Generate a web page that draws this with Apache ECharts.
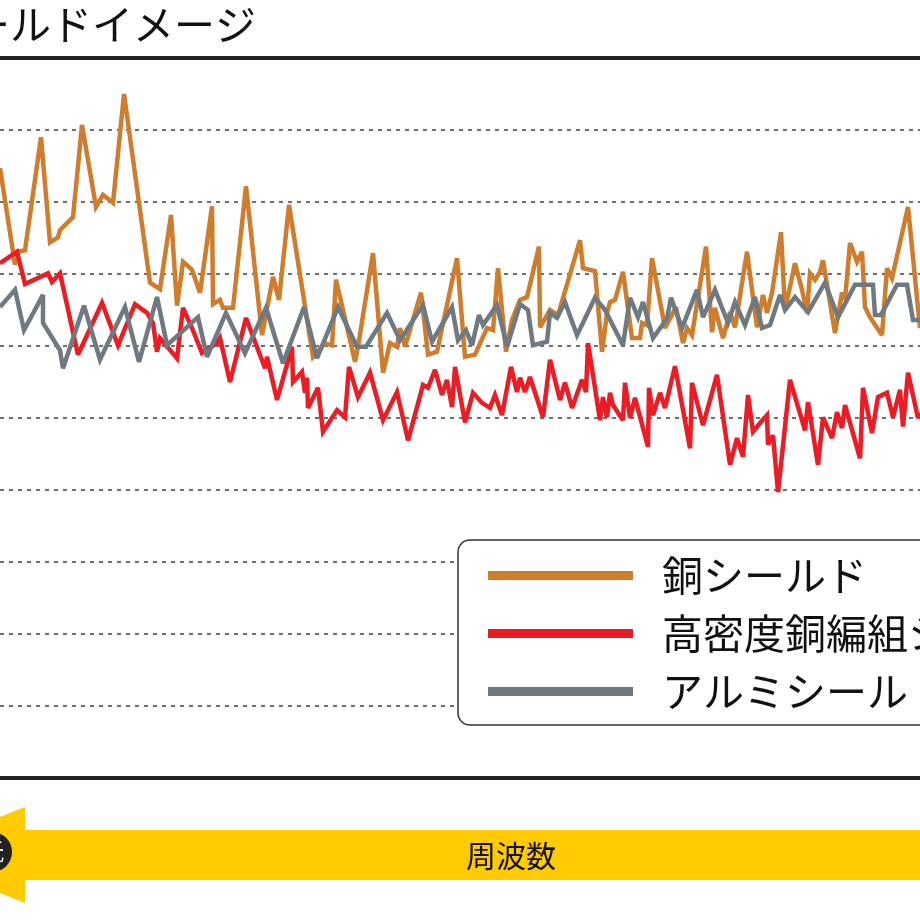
<!DOCTYPE html>
<html>
<head>
<meta charset="utf-8">
<script src="https://cdn.jsdelivr.net/npm/echarts@6/dist/echarts.min.js"></script>
<style>
  html, body { margin: 0; padding: 0; background: #fff; overflow: hidden; }
  #chart { width: 920px; height: 920px; }
</style>
</head>
<body>
<div id="chart"></div>
<script>
// series names (legend order)
var seriesNames = ['銅シールド', '高密度銅編組シールド', 'アルミシールド'];

// 銅シールド
var copperX = [0, 1.5, 1.8, 2.5, 4.1, 5.0, 5.8, 6.0, 7.3, 8.2,
    9.6, 10.3, 11.3, 12.4, 15.0, 16.0, 17.1, 17.7, 18.3, 19.2,
    20.0, 21.2, 21.3, 22.0, 22.3, 23.3, 24.6, 26.2, 27.3, 27.9,
    28.9, 31.3, 32.5, 33.2, 33.6, 35.5, 35.8, 37.3, 38.3, 39.0,
    39.7, 40.0, 40.5, 42.1, 42.8, 43.7, 45.7, 46.5, 47.5, 48.7,
    49.3, 49.8, 50.6, 51.2, 52.0, 52.7, 53.9, 54.0, 55.0, 55.8,
    58.0, 58.3, 59.5, 60.2, 60.7, 61.0, 61.5, 62.3, 63.2, 64.0,
    64.2, 64.7, 65.2, 66.5, 67.6, 68.3, 68.7, 69.2, 70.6, 71.2,
    71.5, 72.3, 73.0, 73.5, 74.7, 75.7, 76.3, 76.7, 77.2, 78.1,
    78.5, 79.5, 80.2, 80.7, 81.0, 81.5, 82.0, 82.3, 83.5, 84.2,
    84.5, 85.0, 85.7, 86.2, 86.5, 87.0, 88.2, 88.7, 89.2, 90.8,
    92.0];
var copperY = [84.7, 71.3, 73.1, 73.3, 89.0, 74.4, 75.1, 76.1, 77.9, 90.7,
    79.3, 81.0, 79.9, 95.0, 68.8, 67.9, 78.2, 65.6, 71.7, 70.6,
    67.4, 79.4, 65.8, 66.4, 65.3, 65.3, 82.2, 61.5, 69.6, 66.4,
    79.6, 58.5, 60.4, 60.1, 69.2, 57.8, 59.9, 72.9, 56.3, 60.4,
    59.9, 62.5, 59.9, 67.4, 58.8, 59.2, 72.2, 58.5, 58.8, 62.5,
    62.2, 70.8, 59.2, 63.6, 66.4, 66.8, 73.8, 62.6, 65.0, 64.3,
    74.7, 70.8, 70.4, 59.2, 64.6, 66.1, 66.4, 70.3, 61.1, 61.1,
    63.2, 62.9, 72.2, 62.5, 65.4, 60.4, 62.5, 61.5, 73.8, 61.9,
    65.3, 61.1, 64.7, 62.6, 73.1, 62.6, 67.1, 64.6, 67.4, 75.8,
    65.0, 71.5, 67.8, 64.6, 70.1, 69.2, 70.3, 71.9, 61.8, 67.4,
    66.4, 74.3, 71.7, 73.1, 65.4, 64.0, 61.5, 70.8, 69.4, 79.3,
    62.5];

// 高密度銅編組シールド
var braidX = [0, 1.7, 2.5, 4.8, 5.2, 6.0, 7.8, 10.2, 11.8, 13.5,
    14.7, 15.3, 15.7, 16.0, 17.7, 18.3, 19.2, 20.2, 21.7, 22.0,
    23.0, 24.6, 26.5, 26.7, 27.0, 27.7, 29.2, 29.3, 30.2, 30.5,
    30.7, 30.8, 31.8, 32.3, 33.7, 34.5, 34.9, 35.8, 37.0, 38.3,
    39.7, 40.8, 42.3, 42.8, 43.5, 44.2, 44.7, 45.2, 45.5, 46.5,
    47.3, 48.2, 49.0, 49.5, 50.2, 51.1, 51.7, 52.0, 52.5, 53.0,
    54.3, 55.0, 56.0, 56.5, 57.2, 58.2, 58.6, 58.8, 60.0, 60.3,
    60.7, 61.0, 61.3, 62.3, 62.5, 63.0, 63.5, 64.8, 64.9, 65.3,
    66.0, 66.5, 67.5, 69.0, 69.2, 70.3, 71.7, 73.0, 73.7, 74.3,
    74.8, 75.3, 76.0, 76.7, 76.8, 77.3, 77.8, 79.0, 80.5, 80.8,
    81.8, 82.3, 83.2, 83.7, 84.2, 84.5, 86.0, 86.3, 87.2, 87.8,
    88.7, 89.3, 90.0, 90.3, 90.8, 91.8, 92.0];
var braidY = [71.5, 73.1, 68.6, 70.1, 68.9, 70.1, 58.8, 66.0, 60.1, 65.8,
    64.6, 63.2, 59.2, 61.1, 58.3, 65.3, 62.5, 59.0, 60.4, 61.1,
    55.0, 63.9, 56.9, 58.5, 56.7, 52.5, 59.9, 55.0, 56.4, 53.5,
    55.6, 51.4, 54.2, 48.1, 51.1, 50.1, 57.1, 52.9, 56.3, 49.7,
    53.6, 46.9, 54.6, 54.2, 56.7, 53.2, 55.3, 51.5, 57.1, 49.4,
    53.5, 52.1, 51.4, 53.2, 50.4, 57.1, 53.6, 55.6, 53.6, 55.7,
    50.1, 58.1, 52.5, 54.9, 51.4, 55.3, 53.6, 60.4, 49.7, 52.9,
    50.1, 53.5, 51.8, 49.7, 54.9, 50.0, 52.8, 46.0, 54.2, 50.4,
    53.5, 51.4, 57.2, 45.8, 54.9, 49.0, 56.0, 43.5, 47.2, 44.6,
    53.2, 48.1, 49.3, 50.4, 46.3, 47.6, 39.7, 55.3, 48.3, 52.2,
    43.5, 50.1, 47.2, 50.8, 48.6, 51.8, 44.4, 54.2, 47.9, 52.9,
    53.5, 50.1, 53.9, 48.8, 56.3, 50.0, 50.7];

// アルミシールド
var aluX = [0, 1.5, 2.4, 4.3, 4.3, 6.0, 6.3, 8.4, 10.0, 12.5,
    13.9, 15.7, 16.7, 19.8, 20.7, 22.6, 24.5, 26.6, 28.3, 30.4,
    31.7, 33.8, 35.7, 36.6, 38.7, 40.0, 42.3, 43.2, 45.2, 45.8,
    46.6, 47.2, 47.9, 48.3, 49.7, 50.7, 52.0, 52.8, 53.3, 54.7,
    55.0, 55.7, 56.5, 57.7, 59.5, 60.5, 62.3, 63.0, 63.8, 64.3,
    65.3, 66.7, 67.1, 68.2, 69.7, 70.3, 71.5, 72.8, 73.5, 74.5,
    75.5, 76.2, 77.0, 78.0, 78.5, 79.5, 80.8, 82.5, 83.8, 85.5,
    87.3, 87.5, 88.1, 89.7, 90.7, 91.3, 92.0];
var aluY = [65.4, 67.8, 62.2, 67.1, 63.2, 59.4, 56.9, 65.6, 58.1, 65.4,
    57.8, 66.8, 60.1, 64.0, 58.5, 64.6, 59.0, 65.3, 57.6, 65.4,
    58.3, 65.4, 59.9, 59.9, 64.6, 60.8, 65.7, 60.6, 65.4, 60.8,
    62.2, 60.1, 64.3, 62.9, 65.7, 59.9, 65.8, 65.0, 60.1, 60.6,
    64.6, 63.9, 66.1, 61.5, 66.7, 65.0, 60.1, 66.7, 64.0, 66.1,
    61.1, 63.8, 66.7, 62.5, 67.8, 64.0, 67.8, 63.2, 66.1, 62.9,
    66.8, 62.5, 62.9, 67.1, 65.0, 66.8, 64.7, 68.8, 64.0, 68.5,
    68.5, 64.3, 64.3, 68.5, 68.5, 63.6, 63.6];

var colors = ['#CF7D2C', '#EC1C24', '#6E7981'];
var jpFont = '"Noto Sans CJK JP", "Noto Sans", sans-serif';

function zip(xs, ys) {
    return xs.map(function (x, i) { return [x, ys[i]]; });
}

var seriesData = [zip(copperX, copperY), zip(braidX, braidY), zip(aluX, aluY)];

var chart = echarts.init(document.getElementById('chart'));

var frameLine = {
    show: true,
    onZero: false,
    lineStyle: { color: '#222', width: 4 }
};

chart.setOption({
    animation: false,
    backgroundColor: '#fff',
    title: {
        text: 'シールドイメージ',
        left: -72,
        top: 4,
        padding: 0,
        textStyle: { fontFamily: jpFont, fontSize: 41, fontWeight: 'normal', color: '#111' }
    },
    legend: {
        data: seriesNames,
        orient: 'vertical',
        left: 458,
        top: 540,
        padding: [15, 20, 13, 30],
        itemGap: 17,
        itemWidth: 145,
        itemHeight: 9,
        icon: 'rect',
        backgroundColor: '#fff',
        borderColor: '#333',
        borderWidth: 1.5,
        borderRadius: 12,
        textStyle: {
            fontFamily: jpFont,
            fontSize: 41,
            lineHeight: 40,
            color: '#111',
            padding: [0, 0, 0, 24]
        }
    },
    grid: { left: 0, right: 0, top: 58, bottom: 142 },
    xAxis: [{
        type: 'value',
        min: 0,
        max: 92,
        position: 'bottom',
        axisLine: frameLine,
        axisTick: { show: false },
        axisLabel: { show: false },
        splitLine: { show: false }
    }, {
        type: 'value',
        min: 0,
        max: 92,
        position: 'top',
        axisLine: frameLine,
        axisTick: { show: false },
        axisLabel: { show: false },
        splitLine: { show: false }
    }],
    yAxis: {
        type: 'value',
        min: 0,
        max: 100,
        interval: 10,
        axisLine: { show: false },
        axisTick: { show: false },
        axisLabel: { show: false },
        splitLine: {
            lineStyle: { color: '#707070', width: 2, type: [4, 5] }
        }
    },
    series: seriesNames.map(function (name, i) {
        return {
            name: name,
            type: 'line',
            xAxisIndex: 0,
            showSymbol: false,
            symbol: 'none',
            data: seriesData[i],
            itemStyle: { color: colors[i] },
            lineStyle: { color: colors[i], width: 4.5, join: 'miter', miterLimit: 3 },
            z: 2 + i
        };
    }),
    graphic: [
        {
            type: 'polygon',
            shape: {
                points: [[930, 830], [25, 830], [25, 807], [-95, 855], [25, 903], [25, 880], [930, 880]]
            },
            style: { fill: '#FFCA00' }
        },
        {
            type: 'circle',
            shape: { cx: -8, cy: 852, r: 20 },
            style: { fill: '#222' }
        },
        {
            type: 'text',
            x: -8,
            y: 852,
            style: {
                text: '低',
                fill: '#fff',
                font: '24px ' + jpFont,
                align: 'center',
                verticalAlign: 'middle'
            }
        },
        {
            type: 'text',
            x: 511,
            y: 856,
            style: {
                text: '周波数',
                fill: '#111',
                font: '30px ' + jpFont,
                align: 'center',
                verticalAlign: 'middle'
            }
        }
    ]
});
</script>
</body>
</html>
